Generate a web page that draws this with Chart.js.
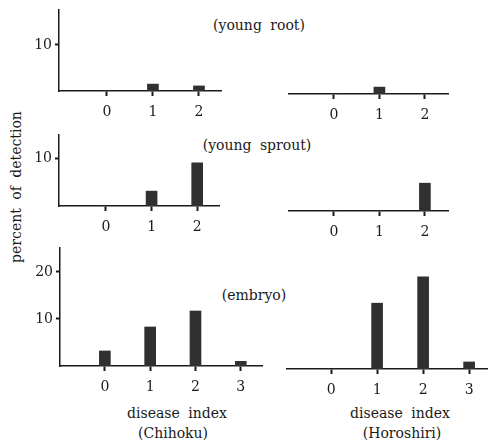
<!DOCTYPE html>
<html>
<head>
<meta charset="utf-8">
<script src="https://cdn.jsdelivr.net/npm/chart.js@4.4.1/dist/chart.umd.min.js"></script>
<style>
  html, body { margin: 0; padding: 0; background: #fff; }
  #page { position: relative; width: 488px; height: 442px; overflow: hidden; }
  canvas { position: absolute; }
  .lbl {
    position: absolute; transform: translate(-50%, -50%);
    font-family: "DejaVu Serif", serif; font-size: 14px; color: #1a1a1a;
    white-space: nowrap; word-spacing: 4px;
  }
  .ytitle { transform: translate(-50%, -50%) rotate(-90deg); }
</style>
</head>
<body>
<div id="page">
  <div class="lbl" style="left:259px;top:25px">(young root)</div>
  <div class="lbl" style="left:257px;top:145px">(young sprout)</div>
  <div class="lbl" style="left:254px;top:295px">(embryo)</div>
  <div class="lbl ytitle" style="left:16px;top:187px">percent of detection</div>
  <div class="lbl" style="left:177px;top:413px">disease index</div>
  <div class="lbl" style="left:173px;top:433px">(Chihoku)</div>
  <div class="lbl" style="left:400px;top:413px">disease index</div>
  <div class="lbl" style="left:402px;top:433px">(Horoshiri)</div>
</div>
<script>
// disease index categories
const indexShort = [0, 1, 2];
const indexLong = [0, 1, 2, 3];

// percent of detection
const rootChihoku = [0, 1.5, 1.1];
const rootHoroshiri = [0, 1.5, 0];
const sproutChihoku = [0, 3.1, 9.0];
const sproutHoroshiri = [0, 0, 5.8];
const embryoChihoku = [3.2, 8.3, 11.7, 1.0];
const embryoHoroshiri = [0, 14.0, 19.6, 1.5];

// y tick labels (left panels only)
const yTicksSmall = [10];
const yTicksLarge = [10, 20];

const FONT = '"DejaVu Serif", serif';
const INK = '#1a1a1a';
const Y_W = 40;   // space for y tick labels
const X_H = 30;   // space for x tick labels
const PAD_T = 2;

const page = document.getElementById('page');

// drop the label padding Chart.js reserves at the axis ends
function noPad(s) {
    s.paddingTop = 0;
    s.paddingBottom = 0;
    s.paddingLeft = 0;
    s.paddingRight = 0;
}

function makePanel(frame, cats, values, yTicks) {
    const canvas = document.createElement('canvas');
    const showY = !!yTicks;
    const yW = showY ? Y_W : 0;
    const left = frame.left - yW;
    const top = frame.top - PAD_T;
    canvas.width = frame.right - left;
    canvas.height = frame.bottom + X_H - top;
    canvas.style.left = left + 'px';
    canvas.style.top = top + 'px';
    page.appendChild(canvas);

    new Chart(canvas, {
        type: 'bar',
        data: {
            datasets: [{
                data: values.map((v, i) => ({ x: cats[i], y: v })),
                backgroundColor: '#303030',
                borderWidth: 0,
                barThickness: 11
            }]
        },
        options: {
            responsive: false,
            animation: false,
            devicePixelRatio: 1,
            layout: { padding: { top: PAD_T, left: 0, right: 0, bottom: 0 } },
            plugins: { legend: { display: false }, tooltip: { enabled: false } },
            scales: {
                x: {
                    type: 'linear',
                    offset: false,
                    min: frame.xMin,
                    max: frame.xMax,
                    afterBuildTicks: s => { s.ticks = cats.map(v => ({ value: v })); },
                    afterFit: s => { s.height = X_H; noPad(s); },
                    grid: { offset: false, drawOnChartArea: false, drawTicks: true, tickLength: 5, tickWidth: 2, color: INK },
                    border: { display: true, color: INK, width: 1.5 },
                    ticks: { color: INK, padding: 8, font: { family: FONT, size: 14 } }
                },
                y: {
                    display: showY,
                    min: 0,
                    max: frame.yMax,
                    afterBuildTicks: s => { s.ticks = (yTicks || []).map(v => ({ value: v })); },
                    afterFit: s => { s.width = yW; noPad(s); },
                    grid: { drawOnChartArea: false, drawTicks: true, tickLength: 4, tickWidth: 2, color: INK },
                    border: { display: true, color: INK, width: 1.5 },
                    ticks: { color: INK, padding: 3, font: { family: FONT, size: 14 } }
                }
            }
        }
    });
}

makePanel({ left: 59, right: 222, top: 10, bottom: 91, xMin: -1.04, xMax: 2.5, yMax: 17.6 }, indexShort, rootChihoku, yTicksSmall);
makePanel({ left: 288, right: 449, top: 13, bottom: 94, xMin: -1.01, xMax: 2.53, yMax: 17.6 }, indexShort, rootHoroshiri, null);
makePanel({ left: 59, right: 220, top: 135, bottom: 206, xMin: -1.03, xMax: 2.5, yMax: 14.8 }, indexShort, sproutChihoku, yTicksSmall);
makePanel({ left: 288, right: 449, top: 140, bottom: 211, xMin: -1.01, xMax: 2.53, yMax: 14.8 }, indexShort, sproutHoroshiri, null);
makePanel({ left: 60, right: 263, top: 248, bottom: 366, xMin: -0.99, xMax: 3.49, yMax: 25.1 }, indexLong, embryoChihoku, yTicksLarge);
makePanel({ left: 286, right: 488, top: 251, bottom: 369, xMin: -0.98, xMax: 3.41, yMax: 25.1 }, indexLong, embryoHoroshiri, null);
</script>
</body>
</html>
